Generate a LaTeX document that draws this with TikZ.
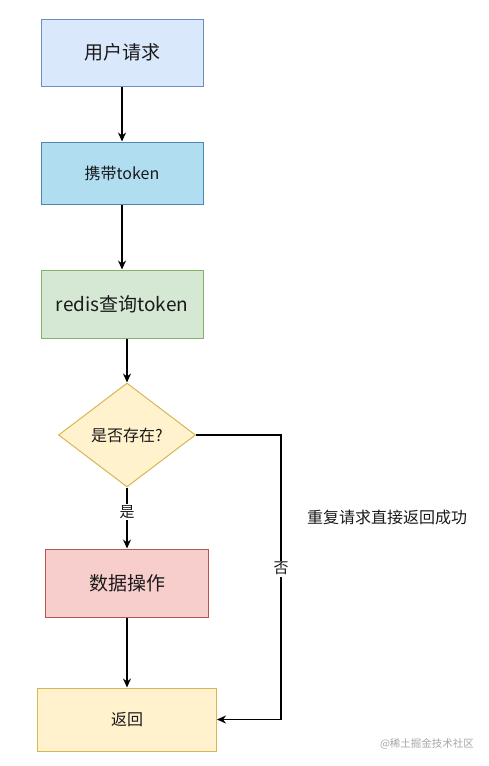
\documentclass[tikz,border=0pt]{standalone}
\usepackage{fontspec}
\setmainfont{Noto Sans CJK SC}
\usetikzlibrary{positioning,arrows.meta,shapes.geometric}
\definecolor{reqfill}{HTML}{DAE8FC}
\definecolor{reqdraw}{HTML}{6C8EBF}
\definecolor{tokfill}{HTML}{B1DDF0}
\definecolor{tokdraw}{HTML}{4A88B4}
\definecolor{qryfill}{HTML}{D5E8D4}
\definecolor{qrydraw}{HTML}{82B366}
\definecolor{chkfill}{HTML}{FFF2CC}
\definecolor{chkdraw}{HTML}{D6B656}
\definecolor{opfill}{HTML}{F8CECC}
\definecolor{opdraw}{HTML}{B85450}
\definecolor{inktext}{HTML}{1A1A1A}
\newcommand{\largetxt}{\fontsize{19}{23}\selectfont}
\newcommand{\midtxt}{\fontsize{16}{20}\selectfont}
\newcommand{\smalltxt}{\fontsize{15}{18}\selectfont}
\tikzset{
  flowbox/.style={rectangle, draw, line width=1pt, inner sep=0pt, text=inktext},
  checkbox/.style={diamond, draw=chkdraw, fill=chkfill, line width=1pt, inner sep=0pt,
    minimum width=137pt, minimum height=104pt, text=inktext, font=\midtxt},
  flowarrow/.style={-{Stealth[length=9pt,width=8pt]}, line width=1.4pt, black},
  edgelabel/.style={fill=white, inner sep=1.5pt, text=inktext, font=\smalltxt}
}
\begin{document}
\begin{tikzpicture}[x=1pt,y=-1pt]
\useasboundingbox (0,0) rectangle (489,766);
% process boxes
\node[flowbox, draw=reqdraw, fill=reqfill, minimum width=162pt, minimum height=67pt, font=\largetxt] (req) at (122,52.5) {用户请求};
\node[flowbox, draw=tokdraw, fill=tokfill, minimum width=162pt, minimum height=62pt, font=\midtxt] (tok) at (122,173) {携带token};
\node[flowbox, draw=qrydraw, fill=qryfill, minimum width=162pt, minimum height=68pt, font=\largetxt] (qry) at (122,304) {redis查询token};
\node[checkbox] (chk) at (127,435) {是否存在?};
\node[flowbox, draw=opdraw, fill=opfill, minimum width=163pt, minimum height=68pt, font=\largetxt] (op) at (127,583) {数据操作};
\node[flowbox, draw=chkdraw, fill=chkfill, minimum width=179pt, minimum height=63pt, font=\midtxt] (ret) at (127,719.5) {返回};
% side note and watermark
\node[text=inktext, font=\midtxt] (note) at (387,517) {重复请求直接返回成功};
\node[text=black!35, font=\fontsize{10.5}{12}\selectfont] (mark) at (427,744) {@稀土掘金技术社区};
\coordinate (turn) at (281,435);
% connectors
\draw[flowarrow] (req) -- (tok);
\draw[flowarrow] (tok) -- (qry);
\draw[flowarrow] (qry.south -| chk.north) -- (chk.north);
\draw[flowarrow] (chk.south) -- node[edgelabel, pos=0.4] {是} (op.north);
\draw[flowarrow] (op) -- (ret);
\draw[flowarrow] (chk.east) -- (turn) -- node[edgelabel, pos=0.47] {否} (turn |- ret.east) -- (ret.east);
\end{tikzpicture}
\end{document}
